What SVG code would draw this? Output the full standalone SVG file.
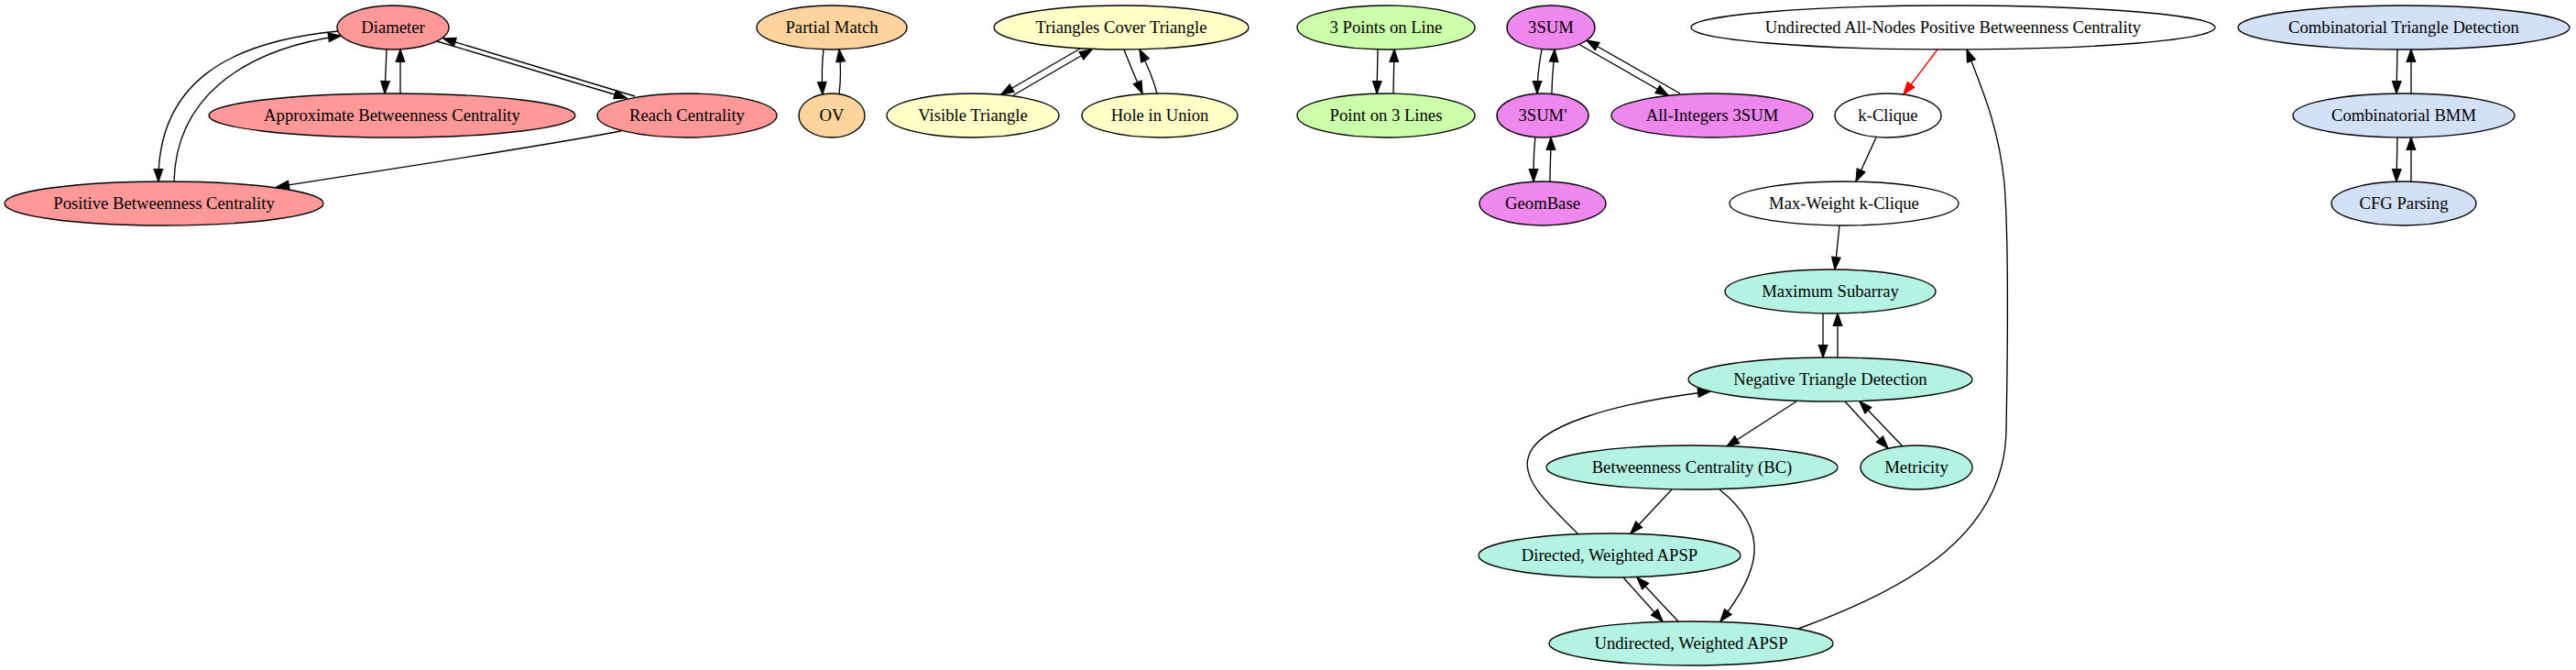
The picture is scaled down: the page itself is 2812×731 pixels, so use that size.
<svg xmlns="http://www.w3.org/2000/svg" width="2812" height="731" viewBox="0 0 2812 731">
<style>
.n ellipse{stroke:#000;stroke-width:1.33}
.n text{font-family:"Liberation Serif","Times New Roman",serif;font-size:18.67px;text-anchor:middle;fill:#000}
.e path{fill:none;stroke:#000;stroke-width:1.33;marker-end:url(#ah)}
.e path.red{stroke:#ff0000;marker-end:url(#ahr)}
.c1{fill:#ff9999}.c2{fill:#fdd49e}.c3{fill:#ffffc8}.c4{fill:#ccffaa}.c5{fill:#ee88ee}.c6{fill:#ffffff}.c7{fill:#b4f2e2}.c8{fill:#d2e1f8}
</style>
<defs>
<marker id="ah" markerUnits="userSpaceOnUse" markerWidth="16" markerHeight="12" viewBox="0 -6 16 12" refX="13.33" refY="0" orient="auto" overflow="visible"><path d="M0,-4.67 L13.33,0 L0,4.67 Z" fill="#000" stroke="#000" stroke-width="1.33"/></marker>
<marker id="ahr" markerUnits="userSpaceOnUse" markerWidth="16" markerHeight="12" viewBox="0 -6 16 12" refX="13.33" refY="0" orient="auto" overflow="visible"><path d="M0,-4.67 L13.33,0 L0,4.67 Z" fill="#ff0000" stroke="#ff0000" stroke-width="1.33"/></marker>
</defs>
<rect width="2812" height="731" fill="#fff"/>
<g id="edges" class="e">
<path d="M422,54 L420,102"/>
<path d="M437,102 L437,54"/>
<path d="M477,45 L684,107"/>
<path d="M693,105 L484,42"/>
<path d="M370,34 C250,45 172,90 173,198"/>
<path d="M190,198 C192,110 260,55 372,39"/>
<path d="M678,143 C560,165 420,185 302,204"/>
<path d="M899,54 C897,70 897,86 898,103"/>
<path d="M916,103 C918,86 918,70 916,54"/>
<path d="M1179,53 L1093,103"/>
<path d="M1106,104 L1192,54"/>
<path d="M1227,54 C1233,70 1240,86 1247,102"/>
<path d="M1263,102 C1259,86 1252,70 1244,54"/>
<path d="M1504,54 L1503,102"/>
<path d="M1521,102 L1522,54"/>
<path d="M1683,54 C1680,70 1678,86 1678,102"/>
<path d="M1694,102 C1694,86 1696,70 1697,54"/>
<path d="M1676,150 C1674,166 1674,182 1674,198"/>
<path d="M1692,198 C1692,182 1693,166 1693,150"/>
<path d="M1723,48 L1821,104"/>
<path d="M1834,102 L1732,44"/>
<path class="red" d="M2115,54 L2078,103"/>
<path d="M2048,150 L2026,198"/>
<path d="M2008,246 L2003,294"/>
<path d="M1990,342 L1990,390"/>
<path d="M2006,390 L2006,342"/>
<path d="M1961,438 L1885,487"/>
<path d="M2014,438 L2061,489"/>
<path d="M2077,487 L2030,438"/>
<path d="M1825,534 L1780,582"/>
<path d="M1877,534 C1935,580 1920,625 1878,678"/>
<path d="M1772,630 L1815,678"/>
<path d="M1832,678 L1787,630"/>
<path d="M1723,583 C1690,550 1662,525 1668,500 C1675,465 1760,440 1867,427"/>
<path d="M1963,686 C2090,640 2188,580 2190,470 C2192,360 2192,250 2188,200 C2182,140 2165,100 2147,54"/>
<path d="M2617,54 L2616,102"/>
<path d="M2632,102 L2632,54"/>
<path d="M2617,150 L2616,198"/>
<path d="M2632,198 L2632,150"/>
</g>
<g id="diameter" class="n"><ellipse class="c1" cx="429" cy="30" rx="61" ry="24"/><text x="429" y="36">Diameter</text></g>
<g id="approx_bc" class="n"><ellipse class="c1" cx="428" cy="126" rx="200" ry="24"/><text x="428" y="132">Approximate Betweenness Centrality</text></g>
<g id="reach" class="n"><ellipse class="c1" cx="750" cy="126" rx="98" ry="24"/><text x="750" y="132">Reach Centrality</text></g>
<g id="positive_bc" class="n"><ellipse class="c1" cx="179" cy="222" rx="174" ry="24"/><text x="179" y="228">Positive Betweenness Centrality</text></g>
<g id="partial_match" class="n"><ellipse class="c2" cx="908" cy="30" rx="82" ry="24"/><text x="908" y="36">Partial Match</text></g>
<g id="ov" class="n"><ellipse class="c2" cx="908" cy="126" rx="36" ry="24"/><text x="908" y="132">OV</text></g>
<g id="tct" class="n"><ellipse class="c3" cx="1224" cy="30" rx="139" ry="24"/><text x="1224" y="36">Triangles Cover Triangle</text></g>
<g id="visible" class="n"><ellipse class="c3" cx="1062" cy="126" rx="94" ry="24"/><text x="1062" y="132">Visible Triangle</text></g>
<g id="hole" class="n"><ellipse class="c3" cx="1266" cy="126" rx="85" ry="24"/><text x="1266" y="132">Hole in Union</text></g>
<g id="three_points" class="n"><ellipse class="c4" cx="1513" cy="30" rx="97" ry="24"/><text x="1513" y="36">3 Points on Line</text></g>
<g id="point_three" class="n"><ellipse class="c4" cx="1513" cy="126" rx="97" ry="24"/><text x="1513" y="132">Point on 3 Lines</text></g>
<g id="threesum" class="n"><ellipse class="c5" cx="1693" cy="30" rx="48" ry="24"/><text x="1693" y="36">3SUM</text></g>
<g id="threesum_p" class="n"><ellipse class="c5" cx="1684" cy="126" rx="50" ry="24"/><text x="1684" y="132">3SUM'</text></g>
<g id="allint" class="n"><ellipse class="c5" cx="1869" cy="126" rx="110" ry="24"/><text x="1869" y="132">All-Integers 3SUM</text></g>
<g id="geombase" class="n"><ellipse class="c5" cx="1684" cy="222" rx="69" ry="24"/><text x="1684" y="228">GeomBase</text></g>
<g id="uanpbc" class="n"><ellipse class="c6" cx="2132" cy="30" rx="286" ry="24"/><text x="2132" y="36">Undirected All-Nodes Positive Betweenness Centrality</text></g>
<g id="kclique" class="n"><ellipse class="c6" cx="2061" cy="126" rx="58" ry="24"/><text x="2061" y="132">k-Clique</text></g>
<g id="mwkclique" class="n"><ellipse class="c6" cx="2013" cy="222" rx="125" ry="24"/><text x="2013" y="228">Max-Weight k-Clique</text></g>
<g id="maxsub" class="n"><ellipse class="c7" cx="1998" cy="318" rx="115" ry="24"/><text x="1998" y="324">Maximum Subarray</text></g>
<g id="negtri" class="n"><ellipse class="c7" cx="1998" cy="414" rx="155" ry="24"/><text x="1998" y="420">Negative Triangle Detection</text></g>
<g id="bc" class="n"><ellipse class="c7" cx="1847" cy="510" rx="159" ry="24"/><text x="1847" y="516">Betweenness Centrality (BC)</text></g>
<g id="metricity" class="n"><ellipse class="c7" cx="2092" cy="510" rx="61" ry="24"/><text x="2092" y="516">Metricity</text></g>
<g id="dir_apsp" class="n"><ellipse class="c7" cx="1757" cy="606" rx="143" ry="24"/><text x="1757" y="612">Directed, Weighted APSP</text></g>
<g id="undir_apsp" class="n"><ellipse class="c7" cx="1846" cy="702" rx="155" ry="24"/><text x="1846" y="708">Undirected, Weighted APSP</text></g>
<g id="ctd" class="n"><ellipse class="c8" cx="2624" cy="30" rx="181" ry="24"/><text x="2624" y="36">Combinatorial Triangle Detection</text></g>
<g id="bmm" class="n"><ellipse class="c8" cx="2624" cy="126" rx="121" ry="24"/><text x="2624" y="132">Combinatorial BMM</text></g>
<g id="cfg" class="n"><ellipse class="c8" cx="2624" cy="222" rx="79" ry="24"/><text x="2624" y="228">CFG Parsing</text></g>
</svg>
